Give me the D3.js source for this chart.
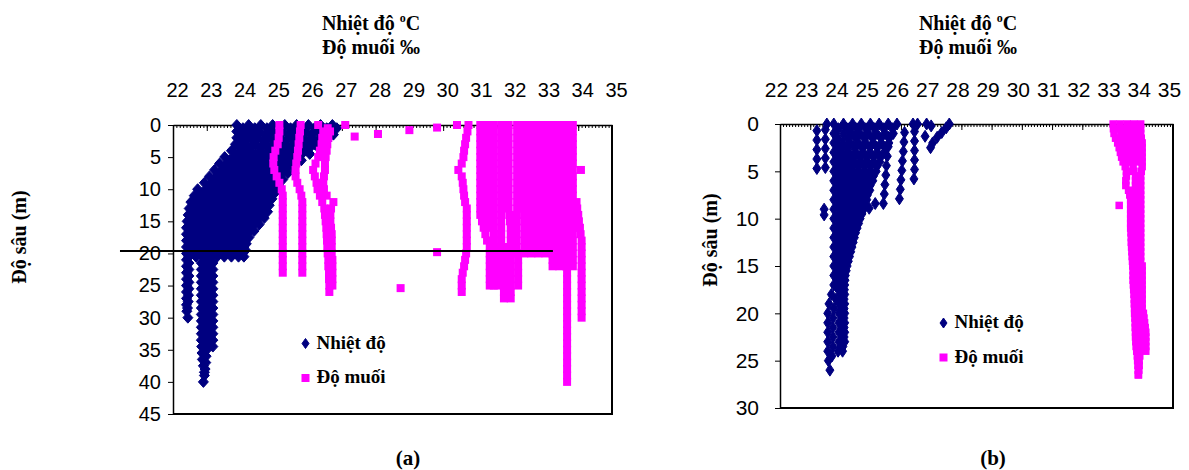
<!DOCTYPE html>
<html>
<head>
<meta charset="utf-8">
<script src="https://cdn.jsdelivr.net/npm/d3@7"></script>
<style>
  body { margin: 0; background: #fff; }
  .serif { font-family: "Liberation Serif", "Times New Roman", serif; font-weight: bold; fill: #000; }
</style>
</head>
<body>
<svg id="bieudo" width="1189" height="470"></svg>
<script>
// ---------- du lieu doc tu hinh ----------
var nhanNhiet = [22, 23, 24, 25, 26, 27, 28, 29, 30, 31, 32, 33, 34, 35];
var nhanSauA = [0, 5, 10, 15, 20, 25, 30, 35, 40, 45];
var nhanSauB = [0, 5, 10, 15, 20, 25, 30];

// moi profile: [do sau bat dau, cac gia tri do theo tung buoc do sau]
var buocA = 1;      // m
var nhietDoA = [
  [0, [23.89,23.89,23.89,23.85,23.73,23.53,23.38,23.23,23.08,22.93,22.73,22.63,22.53,22.48,22.45,22.42,22.40,22.40,22.40,22.40,22.40,22.40,22.40,22.40,22.40,22.40,22.40,22.40,22.40,22.41,22.44]],
  [0.5, [24.07,24.06,24.05,24.00,23.87,23.67,23.51,23.36,23.21,23.06,22.87,22.77,22.67,22.62,22.59,22.55,22.52,22.49,22.48,22.48,22.47,22.47,22.47,22.47,22.47,22.47,22.46,22.45,22.43]],
  [0, [24.24,24.23,24.21,24.14,24.01,23.80,23.64,23.49,23.34,23.19,23.01,22.91,22.81,22.76,22.72,22.68,22.64,22.61,22.59,22.59,22.58]],
  [0.5, [24.42,24.40,24.37,24.29,24.15,23.94,23.77,23.62,23.47,23.33,23.14,23.04,22.95,22.90,22.86,22.80,22.76,22.72,22.70,22.69,22.68,22.84,22.84,22.84,22.84,22.84,22.84,22.84,22.84,22.84,22.84,22.84,22.84,22.84,22.85,22.86,22.87,22.90,22.93]],
  [0, [24.60,24.57,24.53,24.44,24.29,24.07,23.90,23.75,23.60,23.46,23.28,23.18,23.09,23.04,22.99,22.93,22.88,22.83,22.81,22.80,22.79,23.00,23.00,23.00,23.00,23.00,23.00,23.00,23.00,23.00,23.00,23.00,23.00,23.00,23.00,23.00,22.98,22.97,22.95,22.93,22.90]],
  [0.5, [24.78,24.75,24.69,24.59,24.43,24.21,24.03,23.88,23.73,23.59,23.42,23.32,23.23,23.18,23.13,23.06,23.00,22.95,22.91,22.91,22.89,23.18,23.18,23.18,23.18,23.18,23.18,23.18,23.18,23.18,23.18,23.18,23.18,23.18,23.18]],
  [0, [24.95,24.92,24.85,24.73,24.57,24.35,24.16,24.01,23.86,23.72,23.56,23.46,23.37,23.32,23.26,23.19,23.12,23.06,23.02,23.02,23.00]],
  [0.5, [25.13,25.09,25.00,24.88,24.70,24.48,24.29,24.14,23.99,23.85,23.70,23.60,23.51,23.46,23.40,23.32,23.24,23.17,23.13,23.13,23.10]],
  [0, [25.31,25.26,25.16,25.03,24.84,24.62,24.43,24.28,24.13,23.99,23.84,23.74,23.64,23.59,23.53,23.44,23.37,23.28,23.24,23.23,23.21]],
  [0.5, [25.48,25.43,25.32,25.17,24.98,24.76,24.56,24.41,24.26,24.12,23.97,23.87,23.78,23.73,23.67,23.57,23.49,23.40,23.35,23.34,23.31]],
  [0, [25.66,25.60,25.48,25.32,25.12,24.89,24.69,24.54,24.39,24.25,24.11,24.01,23.92,23.87,23.80,23.70,23.61,23.51,23.46,23.45,23.42]],
  [0.5, [25.84,25.77,25.64,25.47,25.26,25.03,24.82,24.67,24.52,24.38,24.25,24.15,24.06,24.01,23.94,23.83,23.73,23.62,23.57,23.56,23.52]],
  [0, [26.01,25.94,25.80,25.61,25.40,25.17,24.95,24.80,24.65,24.51,24.39,24.29,24.20,24.15,24.07,23.96,23.85,23.74,23.68,23.67,23.63]],
  [0.5, [26.19,26.11,25.96,25.76,25.54,25.30,25.08,24.93,24.78,24.65,24.53,24.43,24.34,24.29,24.21,24.08,23.97,23.85,23.79,23.77,23.73]],
  [0, [26.37,26.28,26.12,25.91,25.68,25.44,25.21,25.06,24.91,24.78,24.67,24.57,24.48,24.43,24.34,24.21,24.09,23.96,23.90,23.88,23.84]],
  [0.5, [26.55,26.46,26.28,26.06,25.82,25.58,25.34,25.19,25.04,24.91,24.80,24.70,24.62,24.57,24.48,24.34,24.21,24.08,24.00,23.99,23.94]],
  [0, [26.72,26.63,26.44,26.20,25.96,25.71,25.47,25.32,25.17,25.04,24.94,24.84,24.76,24.71,24.61,24.47,24.33,24.19,24.11,24.10,24.05]],
  [0.5, [26.85,26.75,26.55,26.30,26.05,25.80,25.55,25.40,25.25,25.13,25.03,24.93,24.85,24.80,24.70,24.55,24.40,24.25,24.17,24.15,24.10]]
];

var doMuoiA = [
  [0, [25.15,25.15,25.13,25.10,25.03,24.98,24.97,25.00,25.07,25.15,25.22,25.25,25.25,25.25,25.25,25.25,25.25,25.25,25.25,25.25,25.25,25.25,25.25,25.25]],
  [0, [25.78,25.76,25.74,25.72,25.70,25.68,25.65,25.63,25.63,25.68,25.75,25.80,25.83,25.83,25.83,25.83,25.83,25.83,25.83,25.83,25.83,25.83,25.83,25.83]],
  [1, [26.45,26.42,26.40,26.35,26.30,26.22,26.15,26.20,26.25,26.28,26.35,26.42,26.48,26.50,26.52,26.54,26.55,26.56,26.57,26.58,26.60,26.60,26.62,26.62,26.63,26.63]],
  [1, [26.65,26.60,26.57,26.55,26.52,26.50,26.50,26.47,26.45,26.47,26.55,26.75,26.68,26.66,26.66,26.68,26.70,26.70,26.70,26.70,26.72,26.72,26.72,26.72,26.72]],
  [0, [30.75,30.72,30.68,30.65,30.62,30.60,30.55,30.45,30.55,30.58,30.60,30.62,30.65,30.70,30.70,30.70,30.70,30.70,30.70,30.70,30.68,30.65,30.62,30.58,30.55,30.55,30.55]],
  [0, [31.10,31.10,31.10,31.10,31.10,31.10,31.10,31.10,31.10,31.10,31.10,31.10,31.10,31.10,31.10,31.15,31.20,31.25,31.30,31.38,31.38,31.38,31.38,31.38,31.38,31.38]],
  [0, [31.30,31.30,31.30,31.30,31.30,31.30,31.30,31.30,31.30,31.30,31.30,31.30,31.30,31.30,31.30,31.30,31.40,31.50,31.50,31.50,31.50,31.50,31.50,31.50,31.50,31.50]],
  [0, [31.50,31.50,31.50,31.50,31.50,31.50,31.50,31.50,31.50,31.50,31.50,31.50,31.50,31.50,31.50,31.50,31.50,31.50,31.50,31.62,31.62,31.62,31.62,31.62,31.62,31.62]],
  [0, [31.72,31.72,31.72,31.72,31.72,31.72,31.72,31.72,31.72,31.72,31.72,31.72,31.72,31.72,31.72,31.72,31.72,31.72,31.72,31.80,31.80,31.80,31.80,31.80,31.80,31.80,31.80,31.80]],
  [0, [31.94,31.94,31.94,31.94,31.94,31.94,31.94,31.94,31.94,31.94,31.94,31.94,31.94,31.94,31.96,31.98,32.00,32.00,32.00,32.00,32.00,32.00,32.00,32.00,32.00,32.00,32.00,32.00]],
  [0, [32.19,32.19,32.19,32.19,32.19,32.19,32.19,32.19,32.19,32.19,32.19,32.19,32.19,32.19,32.18,32.17,32.16,32.16,32.16,32.16,32.20,32.22,32.22,32.22,32.22,32.22]],
  [0, [32.40,32.40,32.40,32.40,32.40,32.40,32.40,32.40,32.40,32.40,32.40,32.40,32.40,32.40,32.40,32.40,32.40,32.40,32.40,32.40,32.40]],
  [0, [32.61,32.61,32.61,32.61,32.61,32.61,32.61,32.61,32.61,32.61,32.61,32.61,32.61,32.61,32.61,32.61,32.61,32.61,32.61,32.61,32.61]],
  [0, [32.82,32.82,32.82,32.82,32.82,32.82,32.82,32.82,32.82,32.82,32.82,32.82,32.82,32.82,32.82,32.82,32.82,32.82,32.82,32.82,32.82]],
  [0, [33.03,33.03,33.03,33.03,33.03,33.03,33.03,33.03,33.03,33.03,33.03,33.03,33.03,33.03,33.03,33.03,33.03,33.03,33.03,33.03,33.03]],
  [0, [33.24,33.24,33.24,33.24,33.24,33.24,33.24,33.24,33.24,33.24,33.24,33.24,33.24,33.24,33.24,33.24,33.24,33.24,33.24,33.24,33.24,33.24,33.24]],
  [0, [33.44,33.44,33.44,33.44,33.44,33.44,33.44,33.44,33.44,33.44,33.44,33.44,33.44,33.44,33.44,33.44,33.44,33.44,33.44,33.44,33.44,33.44,33.44]],
  [0, [33.64,33.64,33.64,33.64,33.64,33.64,33.64,33.64,33.64,33.64,33.64,33.64,33.64,33.64,33.64,33.64,33.64,33.64,33.64,33.64,33.64,33.64,33.64,33.67,33.67,33.67,33.67,33.67,33.67,33.67,33.67,33.67,33.67,33.67,33.67,33.67,33.67,33.67,33.67,33.67,33.67]],
  [0, [33.84,33.84,33.84,33.84,33.84,33.84,33.84,33.84,33.84,33.84,33.84,33.84,33.84,33.84,33.84,33.84,33.84,33.84,33.84,33.84,33.84,33.84,33.84]],
  [12, [33.95,33.97,34.00,34.02,34.05,34.07,34.10,34.10,34.10,34.10,34.10,34.10,34.10,34.10,34.10,34.10,34.10,34.10,34.10]]
];
// cac diem do muoi le [do muoi, do sau]
var doMuoiA_le = [[26.30,0],[26.58,0.5],[27.10,0],[27.38,1.8],[28.07,1.4],[29.00,0.8],[29.82,0.4],[30.41,0],[29.82,19.8],[28.74,25.4],[34.08,7]];
// duong ke ngang o (a): [tu, den, do sau]
var vachA = [20.43, 33.25, 19.6];

var buocB = 1;
var nhietDoB = [
  [0, [23.78,23.78,23.78,23.78,23.78,23.78,23.78,23.78,23.78,23.78,23.78,23.78,23.78,23.78,23.78,23.78,23.78,23.78,23.70,23.62,23.58,23.58,23.58,23.58,23.58,23.60,23.65]],
  [0.5, [23.93,23.93,23.93,23.93,23.93,23.93,23.93,23.93,23.93,23.93,23.93,23.93,23.93,23.93,23.93,23.93,23.93,23.93,23.85,23.78,23.75,23.75,23.75,23.75,23.72]],
  [0, [24.10,24.10,24.08,24.06,24.05,24.04,24.03,24.02,24.01,24.00,24.00,24.00,24.00,24.00,24.00,24.00,24.00,24.00,24.00,23.95,23.95,23.95,23.95,23.95,23.92]],
  [0, [25.87,25.75,25.60,25.45,25.30,25.18,25.07,24.97,24.87,24.77,24.65,24.55,24.46,24.38,24.30,24.22,24.16,24.14,24.14,24.14,24.14,24.14,24.14,24.14,24.07]],
  [9.5, [24.10,24.09,24.08,24.07,24.06,24.06,24.05,24.05,24.05,24.05,24.05,24.05,24.05,24.05,24.02]],
  [10.5, [24.60,24.50,24.42,24.34,24.26,24.19,24.15,24.13,24.12,24.12,24.12,24.12,24.12,24.08]],
  [9.5, [24.45,24.38,24.32,24.27,24.22,24.18,24.15,24.12]],
  [0.5, [24.25,24.24,24.21,24.18,24.15,24.14,24.12,24.10,24.08,24.06]],
  [0, [24.40,24.38,24.33,24.29,24.26,24.23,24.20,24.18,24.15,24.13,24.11,24.09,24.08,24.06]],
  [0.5, [24.54,24.51,24.46,24.41,24.36,24.33,24.29,24.26,24.22,24.19]],
  [0, [24.69,24.65,24.59,24.52,24.47,24.42,24.38,24.34,24.30,24.26,24.22,24.18,24.15,24.13]],
  [0.5, [24.84,24.79,24.71,24.64,24.57,24.52,24.46,24.42,24.37,24.32]],
  [0, [24.99,24.93,24.84,24.76,24.68,24.61,24.55,24.50,24.44,24.39,24.33,24.28,24.23,24.19,24.15,24.11,24.08]],
  [0.5, [25.13,25.06,24.97,24.87,24.78,24.71,24.64,24.57,24.51,24.45]],
  [0, [25.28,25.20,25.09,24.99,24.88,24.80,24.72,24.65,24.58,24.51,24.43,24.37,24.31,24.25]],
  [0.5, [25.43,25.34,25.22,25.10,24.99,24.90,24.81,24.73,24.66,24.58]],
  [0, [25.58,25.48,25.35,25.22,25.09,24.99,24.90,24.81,24.73,24.64,24.54,24.46,24.38,24.32]],
  [0.5, [25.72,25.61,25.47,25.33,25.20,25.09,24.98,24.89,24.80,24.71]],
  [0.7, [23.22,23.22,23.22,23.22,23.22]],
  [0.6, [23.50,23.50,23.50,23.50,23.50]],
  [0.9, [26.12,26.10,26.08,26.05,26.03,26.00,25.98,25.95]],
  [0.8, [26.45,26.45,26.45,26.45,26.45,26.43]],
  [1.4, [25.60,25.58,25.55,25.52,25.50,25.47,25.45,25.42]]
];
var nhietDoB_le = [[23.55,0],[23.46,9.0],[23.46,9.6],[24.95,8.9],[25.15,8.4],[26.40,0],[26.55,0],[26.85,0],[27.00,0.2],[26.80,1.3],
  [27.60,0],[27.50,0.4],[27.35,0.9],[27.20,1.4],[27.05,2.0],[26.98,2.5]];

var buocMuoiB = 0.5;
var doMuoiB = [
  [0, [33.02,33.03,33.05,33.10,33.17,33.22,33.26,33.30,33.35,33.42,33.46,33.46,33.44,33.44,33.53,33.57,33.60,33.60,33.60,33.60,
       33.60,33.60,33.60,33.61,33.62,33.62,33.63,33.64,33.65,33.66,33.67,33.68,33.68,33.68,33.69,33.70,33.71,33.72,33.72,33.73,
       33.73,33.74,33.75,33.75,33.76,33.76,33.77,33.78,33.80,33.82,33.83,33.84,33.85,33.85]],
  [0, [33.93,33.93,33.93,33.95,33.98,33.98,33.98,33.98,33.98,33.98,33.95,33.93,33.93,33.93,33.93,33.93,33.93,33.93,33.93,33.93,
       33.93,33.93,33.93,33.93,33.93,33.93,33.93,33.93,33.93,33.93,33.98,33.98,33.98,33.98,33.98,33.98,33.98,33.98,33.98,33.98,
       34.02,34.04,34.06,34.08,34.10,34.10,34.10,34.10,34.10,33.90,33.88,33.88,33.87,33.86]],
  [0, [33.48,33.50,33.50,33.52,33.55,33.58,33.60,33.62,33.65,33.68,33.70,33.76,33.76,33.76,33.76,33.76,33.76,33.76,33.76,33.76,
       33.76,33.76,33.76,33.76,33.76,33.76,33.76,33.76,33.76,33.76,33.82,33.82,33.82,33.82,33.82,33.82,33.82,33.82,33.82,33.82,
       33.88,33.88,33.88,33.88,33.88,33.88,33.88,33.88,33.88]],
  [0, [33.25,33.26,33.28,33.30,33.33,33.36,33.40,33.43,33.46]],
  [0, [33.70,33.71,33.72,33.74,33.76,33.78,33.80,33.81,33.82]]
];
var doMuoiB_le = [[33.22, 8.6]];

// ---------- ve ----------
var svg = d3.select("#bieudo");
var XANH = "#000080", HONG = "#ff00ff";
var SANS = "'Liberation Sans', Arial, sans-serif";

function kimCuong(w, h) {
  return "M0," + (-h) + "L" + w + ",0L0," + h + "L" + (-w) + ",0Z";
}

function traiDiem(dsProfile, buoc, le) {
  var ds = [];
  dsProfile.forEach(function (p) {
    p[1].forEach(function (v, i) { ds.push([v, p[0] + i * buoc]); });
  });
  return ds.concat(le || []);
}

function veKhung(o) {
  var g = svg.append("g");
  var x = d3.scaleLinear().domain([22, 35]).range([o.trai, o.phai]);
  var y = d3.scaleLinear().domain([0, o.sauMax]).range([o.tren, o.duoi]);

  // vien phai + duoi cua vung ve
  g.append("path")
    .attr("d", "M" + o.phai + "," + o.tren + "V" + o.duoi + "H" + o.trai)
    .attr("fill", "none").attr("stroke", "#000").attr("stroke-width", 2);

  // vach phu tren truc nhiet do
  var vachPhu = d3.range(220, 351).map(function (v) { return v / 10; });
  g.append("g").attr("transform", "translate(0," + o.tren + ")")
    .call(d3.axisTop(x).tickValues(vachPhu).tickSizeInner(-3).tickSizeOuter(0).tickFormat(""))
    .call(function (s) { s.select(".domain").remove(); });

  var trucX = g.append("g").attr("transform", "translate(0," + o.tren + ")")
    .call(d3.axisTop(x).tickValues(nhanNhiet).tickSizeInner(-6).tickSizeOuter(0).tickPadding(o.demX));
  trucX.attr("font-family", SANS).attr("font-size", o.coChu);
  trucX.select(".domain").attr("stroke-width", 1.5);
  trucX.selectAll("text").attr("dx", o.lechX);

  var trucY = g.append("g").attr("transform", "translate(" + o.trai + ",0)")
    .call(d3.axisLeft(y).tickValues(o.nhanSau).tickSizeInner(5).tickSizeOuter(0).tickPadding(o.demY));
  trucY.attr("font-family", SANS).attr("font-size", o.coChu);
  trucY.select(".domain").attr("stroke-width", 1.5);

  // nhiet do
  g.append("g").selectAll("path").data(o.nhiet).join("path")
    .attr("d", kimCuong(o.kc[0], o.kc[1]))
    .attr("transform", function (d) { return "translate(" + x(d[0]) + "," + y(d[1]) + ")"; })
    .attr("fill", XANH).attr("stroke", XANH).attr("stroke-width", 1);

  // do muoi
  var s = o.vuong;
  g.append("g").selectAll("rect").data(o.muoi).join("rect")
    .attr("x", function (d) { return x(d[0]) - s / 2; })
    .attr("y", function (d) { return y(d[1]) - s / 2; })
    .attr("width", s).attr("height", s)
    .attr("fill", HONG);

  if (o.vach) {
    g.append("line")
      .attr("x1", x(o.vach[0])).attr("x2", x(o.vach[1]))
      .attr("y1", y(o.vach[2])).attr("y2", y(o.vach[2]))
      .attr("stroke", "#000").attr("stroke-width", 2);
  }

  // chu giai
  var cg = g.append("g").attr("class", "serif").attr("font-size", 19);
  cg.append("path").attr("d", kimCuong(3.5, 5))
    .attr("transform", "translate(" + o.cg[0] + "," + o.cg[1] + ")")
    .attr("fill", XANH).attr("stroke", XANH).attr("stroke-width", 1);
  cg.append("text").attr("x", o.cg[0] + 11).attr("y", o.cg[1] + 5).text("Nhiệt độ");
  cg.append("rect").attr("x", o.cg[0] - 4).attr("y", o.cg[2] - 4).attr("width", 8).attr("height", 8).attr("fill", HONG);
  cg.append("text").attr("x", o.cg[0] + 11).attr("y", o.cg[2] + 5).text("Độ muối");

  // tieu de truc
  var td = g.append("text").attr("class", "serif").attr("text-anchor", "middle")
    .attr("x", o.tdX).attr("y", 30).attr("font-size", 20);
  td.append("tspan").text("Nhiệt độ ");
  td.append("tspan").attr("font-size", 12).attr("dy", -8).text("o");
  td.append("tspan").attr("dy", 8).text("C");
  g.append("text").attr("class", "serif").attr("text-anchor", "middle")
    .attr("x", o.tdX).attr("y", 54).attr("font-size", 20).text("Độ muối ‰");

  g.append("text").attr("class", "serif").attr("text-anchor", "middle").attr("font-size", 20)
    .attr("transform", "translate(" + o.tdY[0] + "," + o.tdY[1] + ") rotate(-90)")
    .text("Độ sâu (m)");

  g.append("text").attr("class", "serif").attr("text-anchor", "middle").attr("font-size", 21)
    .attr("x", o.nhan[0]).attr("y", 465).text(o.nhan[1]);
}

veKhung({
  trai: 173, phai: 612, tren: 125, duoi: 414, sauMax: 45, nhanSau: nhanSauA,
  demX: 28, lechX: 4, demY: 7, coChu: 20, kc: [5, 5.5], vuong: 8,
  nhiet: traiDiem(nhietDoA, buocA), muoi: traiDiem(doMuoiA, buocA, doMuoiA_le),
  vach: vachA, cg: [305.5, 343.5, 378], tdX: 371, tdY: [26, 237], nhan: [408, "(a)"]
});

veKhung({
  trai: 780, phai: 1173, tren: 124, duoi: 408, sauMax: 30, nhanSau: nhanSauB,
  demX: 27, lechX: -4, demY: 16, coChu: 21, kc: [4, 6], vuong: 7.5,
  nhiet: traiDiem(nhietDoB, buocB, nhietDoB_le), muoi: traiDiem(doMuoiB, buocMuoiB, doMuoiB_le),
  vach: null, cg: [943.5, 323, 357.5], tdX: 968, tdY: [717, 240], nhan: [993, "(b)"]
});
</script>
</body>
</html>
